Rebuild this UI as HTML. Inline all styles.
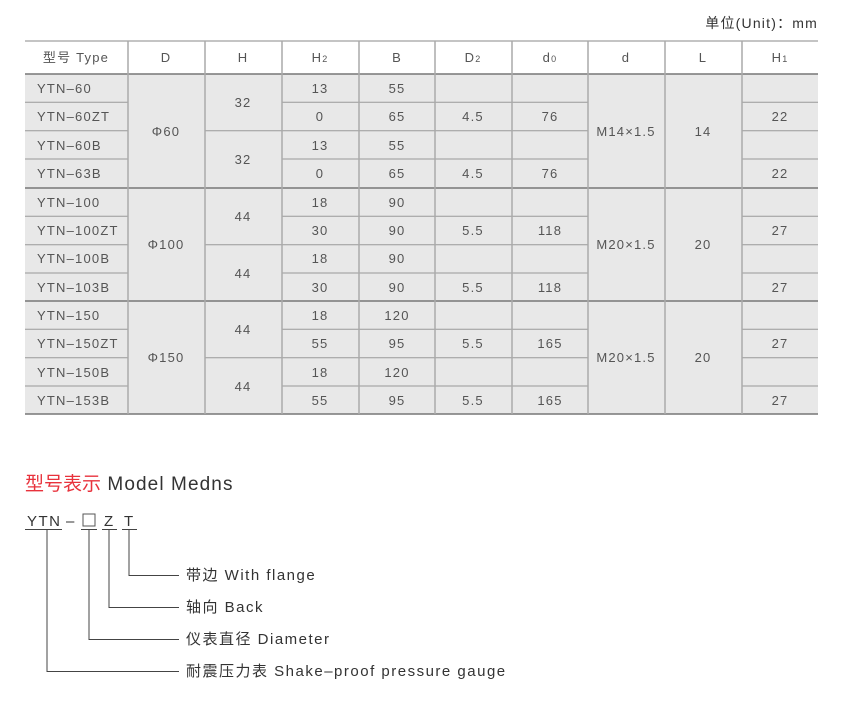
<!DOCTYPE html>
<html><head><meta charset="utf-8"><style>
html,body{margin:0;padding:0;background:#fff;}
svg{display:block;font-family:"Liberation Sans","Noto Sans CJK SC",sans-serif;}
</style></head><body>
<svg width="859" height="703" viewBox="0 0 859 703" xmlns="http://www.w3.org/2000/svg">
<text x="818" y="28" font-size="14" fill="#333" text-anchor="end" letter-spacing="1.2">单位(Unit)：mm</text>
<rect x="25" y="74" width="793" height="340" fill="#e8e8e8"/>
<g stroke="#888" stroke-width="1">
<line x1="25" y1="41" x2="818" y2="41"/>
</g>
<g stroke="#777" stroke-width="1.5">
<line x1="25" y1="74" x2="818" y2="74"/>
<line x1="25" y1="188" x2="818" y2="188"/>
<line x1="25" y1="301" x2="818" y2="301"/>
<line x1="25" y1="414" x2="818" y2="414"/>
</g>
<g stroke="#999" stroke-width="1">
<line x1="25" y1="102.3" x2="128" y2="102.3"/><line x1="282" y1="102.3" x2="588" y2="102.3"/><line x1="742" y1="102.3" x2="818" y2="102.3"/>
<line x1="25" y1="130.7" x2="128" y2="130.7"/><line x1="205" y1="130.7" x2="588" y2="130.7"/><line x1="742" y1="130.7" x2="818" y2="130.7"/>
<line x1="25" y1="159" x2="128" y2="159"/><line x1="282" y1="159" x2="588" y2="159"/><line x1="742" y1="159" x2="818" y2="159"/>
<line x1="25" y1="216.3" x2="128" y2="216.3"/><line x1="282" y1="216.3" x2="588" y2="216.3"/><line x1="742" y1="216.3" x2="818" y2="216.3"/>
<line x1="25" y1="244.7" x2="128" y2="244.7"/><line x1="205" y1="244.7" x2="588" y2="244.7"/><line x1="742" y1="244.7" x2="818" y2="244.7"/>
<line x1="25" y1="273" x2="128" y2="273"/><line x1="282" y1="273" x2="588" y2="273"/><line x1="742" y1="273" x2="818" y2="273"/>
<line x1="25" y1="329.3" x2="128" y2="329.3"/><line x1="282" y1="329.3" x2="588" y2="329.3"/><line x1="742" y1="329.3" x2="818" y2="329.3"/>
<line x1="25" y1="357.7" x2="128" y2="357.7"/><line x1="205" y1="357.7" x2="588" y2="357.7"/><line x1="742" y1="357.7" x2="818" y2="357.7"/>
<line x1="25" y1="386" x2="128" y2="386"/><line x1="282" y1="386" x2="588" y2="386"/><line x1="742" y1="386" x2="818" y2="386"/>
</g>
<g stroke="#aaa" stroke-width="1.5">
<line x1="128" y1="41" x2="128" y2="414"/>
<line x1="205" y1="41" x2="205" y2="414"/>
<line x1="282" y1="41" x2="282" y2="414"/>
<line x1="359" y1="41" x2="359" y2="414"/>
<line x1="435" y1="41" x2="435" y2="414"/>
<line x1="512" y1="41" x2="512" y2="414"/>
<line x1="588" y1="41" x2="588" y2="414"/>
<line x1="665" y1="41" x2="665" y2="414"/>
<line x1="742" y1="41" x2="742" y2="414"/>
</g>
<g font-size="13" fill="#555" text-anchor="middle" letter-spacing="1.2">
<text x="76" y="62">型号 Type</text>
<text x="166" y="62">D</text>
<text x="243" y="62">H</text>
<text x="320" y="62">H<tspan font-size="9">2</tspan></text>
<text x="397" y="62">B</text>
<text x="473" y="62">D<tspan font-size="9">2</tspan></text>
<text x="550" y="62">d<tspan font-size="9">0</tspan></text>
<text x="626" y="62">d</text>
<text x="703" y="62">L</text>
<text x="780" y="62">H<tspan font-size="9">1</tspan></text>
</g>
<g font-size="13" fill="#555" letter-spacing="1.2">
<text x="37" y="93">YTN–60</text><text x="37" y="121">YTN–60ZT</text><text x="37" y="150">YTN–60B</text><text x="37" y="178">YTN–63B</text>
<text x="37" y="207">YTN–100</text><text x="37" y="235">YTN–100ZT</text><text x="37" y="263">YTN–100B</text><text x="37" y="292">YTN–103B</text>
<text x="37" y="320">YTN–150</text><text x="37" y="348">YTN–150ZT</text><text x="37" y="377">YTN–150B</text><text x="37" y="405">YTN–153B</text>
</g>
<g font-size="13" fill="#555" text-anchor="middle" letter-spacing="1.2">
<text x="166" y="136">Φ60</text><text x="166" y="249">Φ100</text><text x="166" y="362">Φ150</text>
<text x="243" y="107">32</text><text x="243" y="164">32</text>
<text x="243" y="221">44</text><text x="243" y="278">44</text>
<text x="243" y="334">44</text><text x="243" y="391">44</text>
<text x="626" y="136">M14×1.5</text><text x="626" y="249">M20×1.5</text><text x="626" y="362">M20×1.5</text>
<text x="703" y="136">14</text><text x="703" y="249">20</text><text x="703" y="362">20</text>
<text x="320" y="93">13</text><text x="397" y="93">55</text>
<text x="320" y="121">0</text><text x="397" y="121">65</text><text x="473" y="121">4.5</text><text x="550" y="121">76</text><text x="780" y="121">22</text>
<text x="320" y="150">13</text><text x="397" y="150">55</text>
<text x="320" y="178">0</text><text x="397" y="178">65</text><text x="473" y="178">4.5</text><text x="550" y="178">76</text><text x="780" y="178">22</text>
<text x="320" y="207">18</text><text x="397" y="207">90</text>
<text x="320" y="235">30</text><text x="397" y="235">90</text><text x="473" y="235">5.5</text><text x="550" y="235">118</text><text x="780" y="235">27</text>
<text x="320" y="263">18</text><text x="397" y="263">90</text>
<text x="320" y="292">30</text><text x="397" y="292">90</text><text x="473" y="292">5.5</text><text x="550" y="292">118</text><text x="780" y="292">27</text>
<text x="320" y="320">18</text><text x="397" y="320">120</text>
<text x="320" y="348">55</text><text x="397" y="348">95</text><text x="473" y="348">5.5</text><text x="550" y="348">165</text><text x="780" y="348">27</text>
<text x="320" y="377">18</text><text x="397" y="377">120</text>
<text x="320" y="405">55</text><text x="397" y="405">95</text><text x="473" y="405">5.5</text><text x="550" y="405">165</text><text x="780" y="405">27</text>
</g>
<text x="25" y="490" font-size="19" fill="#333"><tspan fill="#e8323c">型号表示</tspan><tspan letter-spacing="1.1"> Model Medns</tspan></text>
<text x="27" y="526" font-size="15" fill="#333" letter-spacing="1.5">YTN</text>
<text x="66" y="526" font-size="15" fill="#333">–</text>
<rect x="83" y="514" width="12" height="12" fill="none" stroke="#555" stroke-width="1"/>
<text x="104" y="526" font-size="15" fill="#333">Z</text>
<text x="124" y="526" font-size="15" fill="#333">T</text>
<g stroke="#444" stroke-width="1" fill="none">
<line x1="25" y1="529.5" x2="62" y2="529.5"/>
<line x1="81" y1="529.5" x2="97" y2="529.5"/>
<line x1="102" y1="529.5" x2="117" y2="529.5"/>
<line x1="122" y1="529.5" x2="137" y2="529.5"/>
<polyline points="47,530 47,671.5 179,671.5"/>
<polyline points="89,530 89,639.5 179,639.5"/>
<polyline points="109,530 109,607.5 179,607.5"/>
<polyline points="129,530 129,575.5 179,575.5"/>
</g>
<g font-size="15" fill="#333" letter-spacing="1.5">
<text x="186" y="580">带边 With flange</text>
<text x="186" y="612">轴向 Back</text>
<text x="186" y="644">仪表直径 Diameter</text>
<text x="186" y="676">耐震压力表 Shake–proof pressure gauge</text>
</g>
</svg>
</body></html>
